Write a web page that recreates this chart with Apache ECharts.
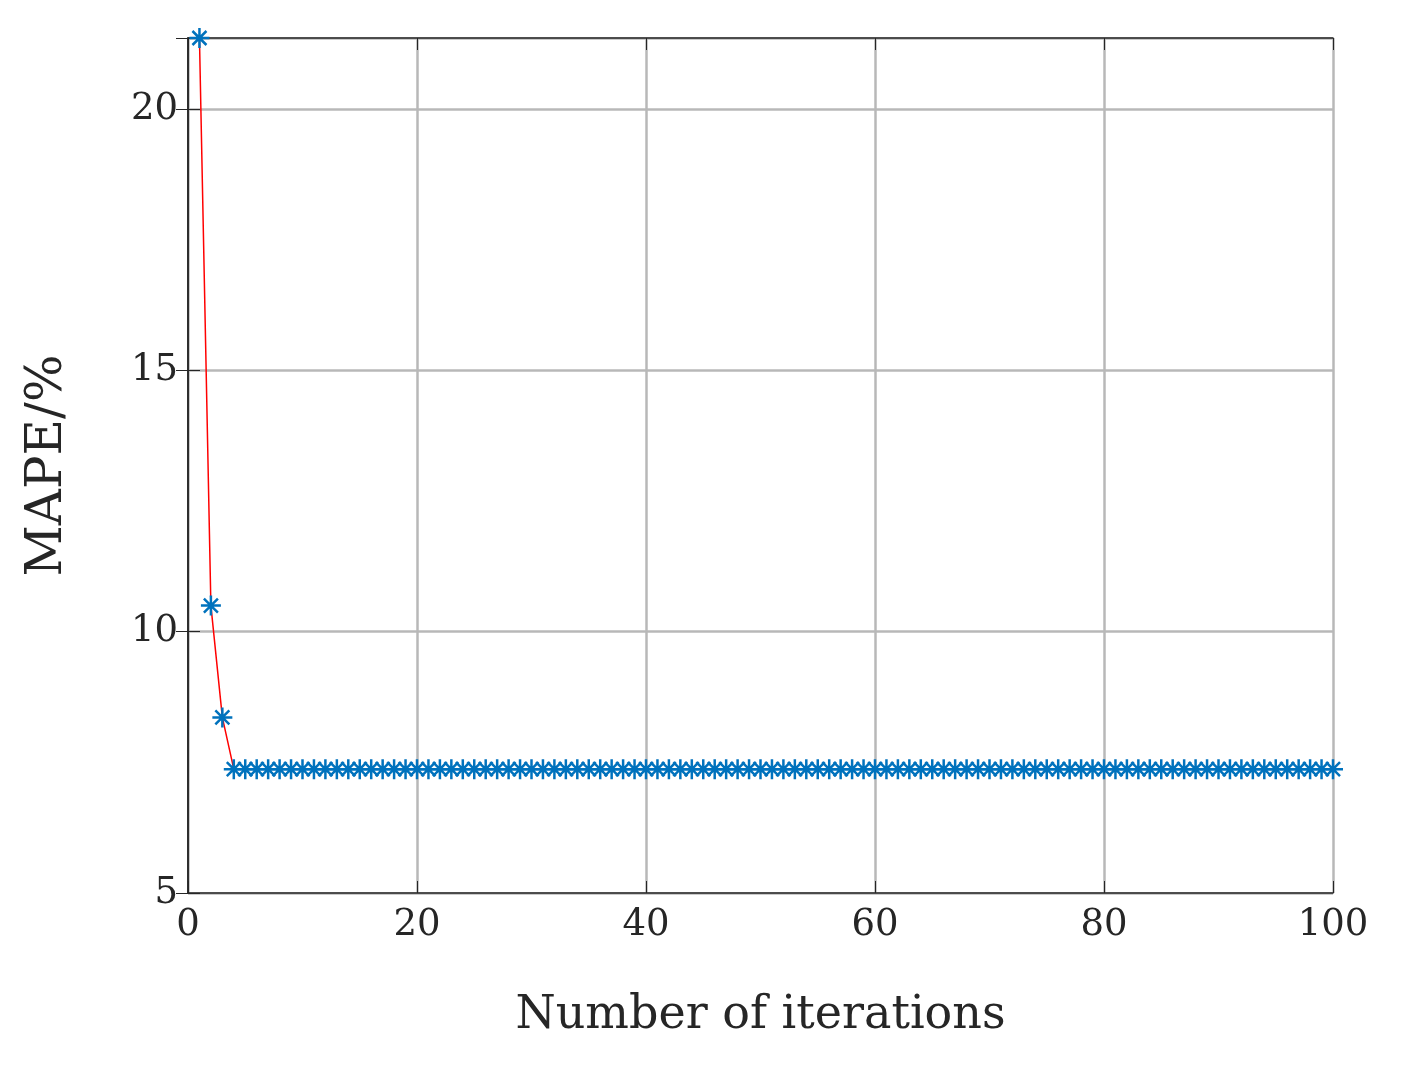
<!DOCTYPE html>
<html>
<head>
<meta charset="utf-8">
<script src="https://cdn.jsdelivr.net/npm/echarts@6/dist/echarts.min.js"></script>
<style>
  html, body { margin: 0; padding: 0; background: #fff; }
  #chart { width: 1401px; height: 1070px; }
</style>
</head>
<body>
<div id="chart"></div>
<script>
// MAPE per iteration
const iterations = [];
for (let i = 1; i <= 100; i++) iterations.push(i);
const headValues = [21.36, 10.5, 8.36];
const plateauValue = 7.37;
const mape = iterations.map((it, idx) => [it, idx < headValues.length ? headValues[idx] : plateauValue]);

const yTicks = [5, 10, 15, 20];

const font = '"DejaVu Serif", "Liberation Serif", serif';
const ink = '#262626';
const asterisk = 'path://M0,-10L0,10M-10,0L10,0M-7,-7L7,7M-7,7L7,-7';

const boxAxis = { show: true, lineStyle: { color: ink, width: 1.5 } };

const chart = echarts.init(document.getElementById('chart'));
chart.setOption({
  animation: false,
  grid: { left: 188, right: 68, top: 38, bottom: 177 },
  xAxis: [{
    type: 'value', min: 0, max: 100, interval: 20,
    name: 'Number of iterations', nameLocation: 'middle', nameGap: 100,
    nameTextStyle: { fontFamily: font, fontSize: 46, color: ink },
    axisLine: boxAxis,
    axisTick: { inside: true, length: 12, lineStyle: { color: ink } },
    axisLabel: { fontFamily: font, fontSize: 37, color: ink, margin: 14 },
    splitLine: { lineStyle: { color: '#b8b8b8', width: 2.5 } }
  }, {
    type: 'value', position: 'top', min: 0, max: 100, interval: 20,
    axisLine: boxAxis, axisTick: { inside: true, length: 12, lineStyle: { color: ink } },
    axisLabel: { show: false }, splitLine: { show: false }
  }],
  yAxis: [{
    type: 'value', min: 5, max: 21.36, interval: 5,
    name: 'MAPE/%', nameLocation: 'middle', nameGap: 115,
    nameTextStyle: { fontFamily: font, fontSize: 50, color: ink },
    axisLine: boxAxis,
    axisTick: { inside: true, length: 12, lineStyle: { color: ink } },
    axisLabel: {
      fontFamily: font, fontSize: 37, color: ink, margin: 10,
      formatter: v => (yTicks.includes(v) ? String(v) : '')
    },
    splitLine: { lineStyle: { color: '#b8b8b8', width: 2.5 } }
  }, {
    type: 'value', position: 'right', min: 5, max: 21.36, interval: 5,
    axisLine: boxAxis, axisTick: { inside: true, length: 12, lineStyle: { color: ink } },
    axisLabel: { show: false }, splitLine: { show: false }
  }],
  series: [{
    type: 'line',
    data: mape,
    lineStyle: { color: '#ff0000', width: 1.5 },
    symbol: asterisk,
    symbolSize: 20,
    showAllSymbol: true,
    itemStyle: { color: 'rgba(0,0,0,0)', borderColor: '#0072BD', borderWidth: 2.5 }
  }]
});
</script>
</body>
</html>
